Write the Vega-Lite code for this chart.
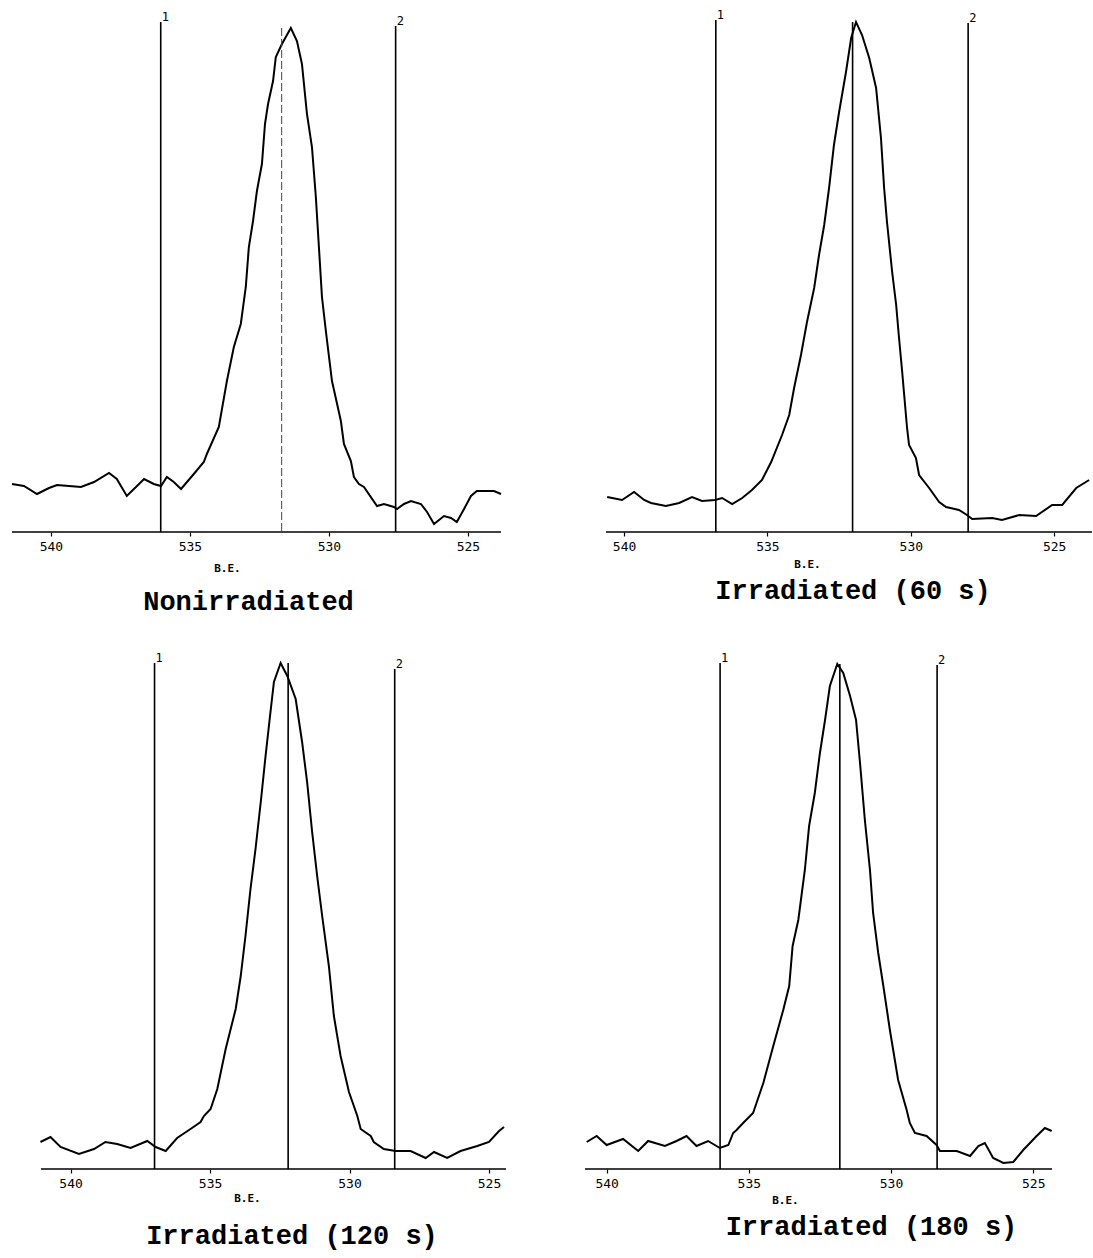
{
  "$schema": "https://vega.github.io/schema/vega-lite/v6.json",
  "background": "white",
  "padding": {"left": 8, "top": 8, "right": 0, "bottom": 10},
  "config": {
    "view": {"stroke": null},
    "axis": {
      "domain": false, "grid": false, "ticks": true, "tickSize": 4, "tickColor": "black", "tickWidth": 1.2,
      "labelFont": "DejaVu Sans Mono", "labelFontSize": 13, "labelColor": "black", "labelPadding": 4,
      "titleFont": "DejaVu Sans Mono", "titleFontSize": 11, "titleFontWeight": "bold", "titleColor": "black",
      "titleAlign": "center", "titleBaseline": "top"
    },
    "title": {"font": "Liberation Mono", "fontSize": 27, "fontWeight": "bold", "color": "black", "orient": "bottom", "anchor": "middle"}
  },
  "datasets": {
    "spectra": [
      {"p":1,"be":541.40,"i":48},{"p":1,"be":540.97,"i":46},{"p":1,"be":540.50,"i":38},{"p":1,"be":540.07,"i":44},{"p":1,"be":539.78,"i":47},{"p":1,"be":539.35,"i":46},{"p":1,"be":538.92,"i":45},{"p":1,"be":538.45,"i":50},{"p":1,"be":537.91,"i":59},{"p":1,"be":537.63,"i":53},{"p":1,"be":537.27,"i":36},{"p":1,"be":536.94,"i":45},{"p":1,"be":536.65,"i":53},{"p":1,"be":536.30,"i":48},{"p":1,"be":536.04,"i":46},{"p":1,"be":535.83,"i":55},{"p":1,"be":535.58,"i":50},{"p":1,"be":535.32,"i":43},{"p":1,"be":534.86,"i":58},{"p":1,"be":534.50,"i":70},{"p":1,"be":534.39,"i":78},{"p":1,"be":533.96,"i":105},{"p":1,"be":533.67,"i":151},{"p":1,"be":533.42,"i":185},{"p":1,"be":533.17,"i":208},{"p":1,"be":532.99,"i":245},{"p":1,"be":532.88,"i":285},{"p":1,"be":532.73,"i":311},{"p":1,"be":532.59,"i":341},{"p":1,"be":532.41,"i":368},{"p":1,"be":532.30,"i":408},{"p":1,"be":532.19,"i":428},{"p":1,"be":532.01,"i":451},{"p":1,"be":531.91,"i":475},{"p":1,"be":531.69,"i":488},{"p":1,"be":531.37,"i":504},{"p":1,"be":531.15,"i":491},{"p":1,"be":530.97,"i":468},{"p":1,"be":530.79,"i":418},{"p":1,"be":530.61,"i":385},{"p":1,"be":530.47,"i":335},{"p":1,"be":530.36,"i":285},{"p":1,"be":530.25,"i":235},{"p":1,"be":530.11,"i":201},{"p":1,"be":529.89,"i":151},{"p":1,"be":529.57,"i":111},{"p":1,"be":529.46,"i":88},{"p":1,"be":529.21,"i":71},{"p":1,"be":529.10,"i":55},{"p":1,"be":528.92,"i":48},{"p":1,"be":528.74,"i":45},{"p":1,"be":528.27,"i":26},{"p":1,"be":528.02,"i":28},{"p":1,"be":527.66,"i":25},{"p":1,"be":527.55,"i":23},{"p":1,"be":527.30,"i":28},{"p":1,"be":527.05,"i":31},{"p":1,"be":526.69,"i":28},{"p":1,"be":526.47,"i":20},{"p":1,"be":526.22,"i":8},{"p":1,"be":525.86,"i":16},{"p":1,"be":525.61,"i":14},{"p":1,"be":525.40,"i":10},{"p":1,"be":525.14,"i":23},{"p":1,"be":524.89,"i":36},{"p":1,"be":524.68,"i":41},{"p":1,"be":524.06,"i":41},{"p":1,"be":523.81,"i":38},
      {"p":2,"be":540.59,"i":35},{"p":2,"be":540.07,"i":32},{"p":2,"be":539.65,"i":40},{"p":2,"be":539.30,"i":32},{"p":2,"be":539.06,"i":29},{"p":2,"be":538.54,"i":26},{"p":2,"be":538.08,"i":29},{"p":2,"be":537.63,"i":35},{"p":2,"be":537.28,"i":31},{"p":2,"be":536.83,"i":32},{"p":2,"be":536.58,"i":34},{"p":2,"be":536.23,"i":28},{"p":2,"be":535.88,"i":34},{"p":2,"be":535.54,"i":42},{"p":2,"be":535.19,"i":52},{"p":2,"be":534.87,"i":70},{"p":2,"be":534.49,"i":97},{"p":2,"be":534.24,"i":117},{"p":2,"be":534.07,"i":144},{"p":2,"be":533.83,"i":177},{"p":2,"be":533.62,"i":210},{"p":2,"be":533.37,"i":244},{"p":2,"be":533.20,"i":277},{"p":2,"be":533.02,"i":307},{"p":2,"be":532.85,"i":344},{"p":2,"be":532.68,"i":387},{"p":2,"be":532.50,"i":420},{"p":2,"be":532.26,"i":460},{"p":2,"be":532.08,"i":494},{"p":2,"be":531.91,"i":510},{"p":2,"be":531.70,"i":497},{"p":2,"be":531.45,"i":474},{"p":2,"be":531.21,"i":444},{"p":2,"be":531.04,"i":394},{"p":2,"be":530.93,"i":344},{"p":2,"be":530.83,"i":310},{"p":2,"be":530.65,"i":260},{"p":2,"be":530.51,"i":227},{"p":2,"be":530.41,"i":194},{"p":2,"be":530.30,"i":160},{"p":2,"be":530.13,"i":104},{"p":2,"be":530.06,"i":87},{"p":2,"be":529.82,"i":74},{"p":2,"be":529.71,"i":57},{"p":2,"be":529.36,"i":44},{"p":2,"be":529.01,"i":30},{"p":2,"be":528.77,"i":25},{"p":2,"be":528.32,"i":22},{"p":2,"be":528.04,"i":17},{"p":2,"be":527.86,"i":13},{"p":2,"be":527.16,"i":14},{"p":2,"be":526.82,"i":12},{"p":2,"be":526.22,"i":17},{"p":2,"be":525.63,"i":16},{"p":2,"be":525.07,"i":27},{"p":2,"be":524.72,"i":27},{"p":2,"be":524.23,"i":44},{"p":2,"be":523.78,"i":52},
      {"p":3,"be":541.08,"i":27},{"p":3,"be":540.72,"i":32},{"p":3,"be":540.36,"i":22},{"p":3,"be":539.70,"i":15},{"p":3,"be":539.16,"i":20},{"p":3,"be":538.75,"i":27},{"p":3,"be":538.33,"i":25},{"p":3,"be":537.85,"i":21},{"p":3,"be":537.25,"i":28},{"p":3,"be":536.95,"i":22},{"p":3,"be":536.59,"i":18},{"p":3,"be":536.18,"i":31},{"p":3,"be":535.70,"i":40},{"p":3,"be":535.34,"i":47},{"p":3,"be":535.22,"i":53},{"p":3,"be":534.98,"i":60},{"p":3,"be":534.74,"i":80},{"p":3,"be":534.44,"i":120},{"p":3,"be":534.08,"i":160},{"p":3,"be":533.90,"i":193},{"p":3,"be":533.73,"i":233},{"p":3,"be":533.55,"i":280},{"p":3,"be":533.37,"i":320},{"p":3,"be":533.17,"i":370},{"p":3,"be":533.01,"i":413},{"p":3,"be":532.85,"i":453},{"p":3,"be":532.71,"i":487},{"p":3,"be":532.47,"i":506},{"p":3,"be":532.23,"i":493},{"p":3,"be":531.93,"i":470},{"p":3,"be":531.70,"i":427},{"p":3,"be":531.52,"i":387},{"p":3,"be":531.34,"i":337},{"p":3,"be":531.16,"i":293},{"p":3,"be":530.98,"i":253},{"p":3,"be":530.74,"i":203},{"p":3,"be":530.56,"i":153},{"p":3,"be":530.32,"i":113},{"p":3,"be":530.02,"i":77},{"p":3,"be":529.72,"i":53},{"p":3,"be":529.60,"i":40},{"p":3,"be":529.24,"i":33},{"p":3,"be":529.13,"i":27},{"p":3,"be":528.77,"i":20},{"p":3,"be":528.35,"i":18},{"p":3,"be":527.81,"i":18},{"p":3,"be":527.27,"i":11},{"p":3,"be":526.97,"i":17},{"p":3,"be":526.50,"i":11},{"p":3,"be":526.02,"i":18},{"p":3,"be":525.42,"i":23},{"p":3,"be":525.00,"i":27},{"p":3,"be":524.64,"i":38},{"p":3,"be":524.46,"i":42},
      {"p":4,"be":540.70,"i":27},{"p":4,"be":540.35,"i":33},{"p":4,"be":540.00,"i":24},{"p":4,"be":539.42,"i":30},{"p":4,"be":538.89,"i":18},{"p":4,"be":538.54,"i":28},{"p":4,"be":537.95,"i":23},{"p":4,"be":537.54,"i":28},{"p":4,"be":537.19,"i":33},{"p":4,"be":536.84,"i":23},{"p":4,"be":536.43,"i":28},{"p":4,"be":536.02,"i":21},{"p":4,"be":535.72,"i":24},{"p":4,"be":535.55,"i":36},{"p":4,"be":535.43,"i":39},{"p":4,"be":535.20,"i":46},{"p":4,"be":534.85,"i":56},{"p":4,"be":534.49,"i":86},{"p":4,"be":534.14,"i":123},{"p":4,"be":533.79,"i":159},{"p":4,"be":533.58,"i":183},{"p":4,"be":533.46,"i":223},{"p":4,"be":533.26,"i":249},{"p":4,"be":533.03,"i":299},{"p":4,"be":532.88,"i":343},{"p":4,"be":532.68,"i":376},{"p":4,"be":532.50,"i":416},{"p":4,"be":532.32,"i":449},{"p":4,"be":532.15,"i":483},{"p":4,"be":531.89,"i":505},{"p":4,"be":531.68,"i":496},{"p":4,"be":531.44,"i":473},{"p":4,"be":531.23,"i":449},{"p":4,"be":531.09,"i":406},{"p":4,"be":530.92,"i":349},{"p":4,"be":530.74,"i":299},{"p":4,"be":530.63,"i":256},{"p":4,"be":530.45,"i":216},{"p":4,"be":530.27,"i":183},{"p":4,"be":530.04,"i":139},{"p":4,"be":529.75,"i":89},{"p":4,"be":529.45,"i":59},{"p":4,"be":529.34,"i":46},{"p":4,"be":529.16,"i":36},{"p":4,"be":528.75,"i":33},{"p":4,"be":528.40,"i":24},{"p":4,"be":528.28,"i":18},{"p":4,"be":527.69,"i":18},{"p":4,"be":527.22,"i":13},{"p":4,"be":526.93,"i":23},{"p":4,"be":526.70,"i":26},{"p":4,"be":526.41,"i":11},{"p":4,"be":526.05,"i":6},{"p":4,"be":525.70,"i":7},{"p":4,"be":525.35,"i":19},{"p":4,"be":524.88,"i":33},{"p":4,"be":524.59,"i":41},{"p":4,"be":524.35,"i":38}
    ],
    "markers": [
      {"p":1,"be":536.05,"top":510,"lab":"1","k":"edge"},{"p":1,"be":527.60,"top":506,"lab":"2","k":"edge"},{"p":1,"be":531.70,"top":504,"lab":"","k":"center"},
      {"p":2,"be":536.80,"top":512,"lab":"1","k":"edge"},{"p":2,"be":528.00,"top":509,"lab":"2","k":"edge"},{"p":2,"be":532.03,"top":510,"lab":"","k":"center"},
      {"p":3,"be":536.99,"top":506,"lab":"1","k":"edge"},{"p":3,"be":528.38,"top":500,"lab":"2","k":"edge"},{"p":3,"be":532.20,"top":506,"lab":"","k":"center"},
      {"p":4,"be":536.01,"top":506,"lab":"1","k":"edge"},{"p":4,"be":528.38,"top":504,"lab":"2","k":"edge"},{"p":4,"be":531.80,"top":505,"lab":"","k":"center"}
    ],
    "baseline": [
      {"p":1,"be":541.40,"be2":523.81},
      {"p":2,"be":540.63,"be2":523.68},
      {"p":3,"be":541.06,"be2":524.39},
      {"p":4,"be":540.76,"be2":524.34}
    ]
  },
  "spacing": 34,
  "vconcat": [
    {
      "spacing": 98,
      "hconcat": [
        {
          "width": 489, "height": 520,
          "title": {"text": "Nonirradiated", "offset": 16, "dx": -8},
          "encoding": {"x": {"field": "be", "type": "quantitative", "scale": {"domain": [523.81, 541.40], "reverse": true, "nice": false, "zero": false}, "axis": {"values": [540,535,530,525], "format": "d", "title": "B.E.", "titleX": 215, "titleY": 30}}},
          "layer": [
            {"data": {"name": "baseline"}, "transform": [{"filter": "datum.p == 1"}], "mark": {"type": "rule", "color": "black", "strokeWidth": 1.6}, "encoding": {"x2": {"field": "be2"}, "y": {"datum": 0, "type": "quantitative", "scale": {"domain": [0, 520], "nice": false, "zero": false}, "axis": null}}},
            {"data": {"name": "spectra"}, "transform": [{"filter": "datum.p == 1"}], "mark": {"type": "line", "color": "black", "strokeWidth": 2}, "encoding": {"y": {"field": "i", "type": "quantitative", "axis": null}}},
            {"data": {"name": "markers"}, "transform": [{"filter": "datum.p == 1 && datum.k == 'edge'"}], "mark": {"type": "rule", "color": "black", "strokeWidth": 1.6}, "encoding": {"y": {"field": "top", "type": "quantitative", "axis": null}, "y2": {"datum": 0}}},
            {"data": {"name": "markers"}, "transform": [{"filter": "datum.p == 1 && datum.k == 'center'"}], "mark": {"type": "rule", "color": "#444", "strokeWidth": 1, "strokeDash": [8, 3]}, "encoding": {"y": {"field": "top", "type": "quantitative", "axis": null}, "y2": {"datum": 0}}},
            {"data": {"name": "markers"}, "transform": [{"filter": "datum.p == 1 && datum.k == 'edge'"}], "mark": {"type": "text", "color": "black", "font": "DejaVu Sans Mono", "fontSize": 12, "align": "left", "baseline": "bottom", "dx": 1, "dy": 2}, "encoding": {"y": {"field": "top", "type": "quantitative", "axis": null}, "text": {"field": "lab"}}}
          ]
        },
        {
          "width": 486, "height": 520,
          "title": {"text": "Irradiated (60 s)", "offset": 9, "dx": 4},
          "encoding": {"x": {"field": "be", "type": "quantitative", "scale": {"domain": [523.68, 540.63], "reverse": true, "nice": false, "zero": false}, "axis": {"values": [540,535,530,525], "format": "d", "title": "B.E.", "titleX": 201, "titleY": 26}}},
          "layer": [
            {"data": {"name": "baseline"}, "transform": [{"filter": "datum.p == 2"}], "mark": {"type": "rule", "color": "black", "strokeWidth": 1.6}, "encoding": {"x2": {"field": "be2"}, "y": {"datum": 0, "type": "quantitative", "scale": {"domain": [0, 520], "nice": false, "zero": false}, "axis": null}}},
            {"data": {"name": "spectra"}, "transform": [{"filter": "datum.p == 2"}], "mark": {"type": "line", "color": "black", "strokeWidth": 2}, "encoding": {"y": {"field": "i", "type": "quantitative", "axis": null}}},
            {"data": {"name": "markers"}, "transform": [{"filter": "datum.p == 2"}], "mark": {"type": "rule", "color": "black", "strokeWidth": 1.6}, "encoding": {"y": {"field": "top", "type": "quantitative", "axis": null}, "y2": {"datum": 0}}},
            {"data": {"name": "markers"}, "transform": [{"filter": "datum.p == 2 && datum.k == 'edge'"}], "mark": {"type": "text", "color": "black", "font": "DejaVu Sans Mono", "fontSize": 12, "align": "left", "baseline": "bottom", "dx": 1, "dy": 2}, "encoding": {"y": {"field": "top", "type": "quantitative", "axis": null}, "text": {"field": "lab"}}}
          ]
        }
      ]
    },
    {
      "spacing": 73,
      "hconcat": [
        {
          "width": 494, "height": 520,
          "title": {"text": "Irradiated (120 s)", "offset": 20, "dx": 33},
          "encoding": {"x": {"field": "be", "type": "quantitative", "scale": {"domain": [524.39, 542.10], "reverse": true, "nice": false, "zero": false}, "axis": {"values": [540,535,530,525], "format": "d", "title": "B.E.", "titleX": 235, "titleY": 23}}},
          "layer": [
            {"data": {"name": "baseline"}, "transform": [{"filter": "datum.p == 3"}], "mark": {"type": "rule", "color": "black", "strokeWidth": 1.6}, "encoding": {"x2": {"field": "be2"}, "y": {"datum": 0, "type": "quantitative", "scale": {"domain": [0, 520], "nice": false, "zero": false}, "axis": null}}},
            {"data": {"name": "spectra"}, "transform": [{"filter": "datum.p == 3"}], "mark": {"type": "line", "color": "black", "strokeWidth": 2}, "encoding": {"y": {"field": "i", "type": "quantitative", "axis": null}}},
            {"data": {"name": "markers"}, "transform": [{"filter": "datum.p == 3"}], "mark": {"type": "rule", "color": "black", "strokeWidth": 1.6}, "encoding": {"y": {"field": "top", "type": "quantitative", "axis": null}, "y2": {"datum": 0}}},
            {"data": {"name": "markers"}, "transform": [{"filter": "datum.p == 3 && datum.k == 'edge'"}], "mark": {"type": "text", "color": "black", "font": "DejaVu Sans Mono", "fontSize": 12, "align": "left", "baseline": "bottom", "dx": 1, "dy": 2}, "encoding": {"y": {"field": "top", "type": "quantitative", "axis": null}, "text": {"field": "lab"}}}
          ]
        },
        {
          "width": 467, "height": 520,
          "title": {"text": "Irradiated (180 s)", "offset": 9, "dx": 53},
          "encoding": {"x": {"field": "be", "type": "quantitative", "scale": {"domain": [524.34, 540.76], "reverse": true, "nice": false, "zero": false}, "axis": {"values": [540,535,530,525], "format": "d", "title": "B.E.", "titleX": 200, "titleY": 25}}},
          "layer": [
            {"data": {"name": "baseline"}, "transform": [{"filter": "datum.p == 4"}], "mark": {"type": "rule", "color": "black", "strokeWidth": 1.6}, "encoding": {"x2": {"field": "be2"}, "y": {"datum": 0, "type": "quantitative", "scale": {"domain": [0, 520], "nice": false, "zero": false}, "axis": null}}},
            {"data": {"name": "spectra"}, "transform": [{"filter": "datum.p == 4"}], "mark": {"type": "line", "color": "black", "strokeWidth": 2}, "encoding": {"y": {"field": "i", "type": "quantitative", "axis": null}}},
            {"data": {"name": "markers"}, "transform": [{"filter": "datum.p == 4"}], "mark": {"type": "rule", "color": "black", "strokeWidth": 1.6}, "encoding": {"y": {"field": "top", "type": "quantitative", "axis": null}, "y2": {"datum": 0}}},
            {"data": {"name": "markers"}, "transform": [{"filter": "datum.p == 4 && datum.k == 'edge'"}], "mark": {"type": "text", "color": "black", "font": "DejaVu Sans Mono", "fontSize": 12, "align": "left", "baseline": "bottom", "dx": 1, "dy": 2}, "encoding": {"y": {"field": "top", "type": "quantitative", "axis": null}, "text": {"field": "lab"}}}
          ]
        }
      ]
    }
  ]
}
